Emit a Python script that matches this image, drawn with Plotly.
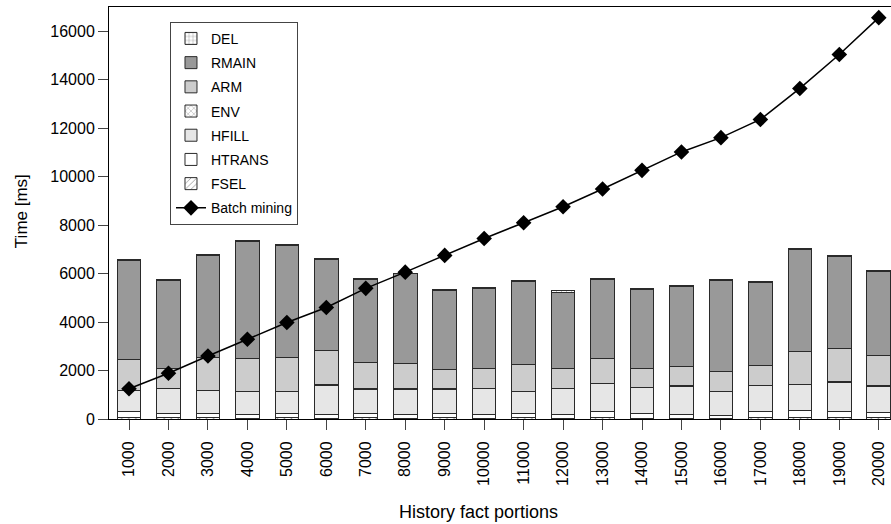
import plotly.graph_objects as go

categories = ["1000", "2000", "3000", "4000", "5000", "6000", "7000", "8000", "9000", "10000",
              "11000", "12000", "13000", "14000", "15000", "16000", "17000", "18000", "19000", "20000"]

fsel = [70, 50, 50, 40, 50, 40, 50, 40, 50, 40, 50, 40, 60, 40, 40, 30, 60, 60, 60, 60]
htrans = [230, 180, 185, 140, 175, 140, 180, 165, 180, 165, 180, 165, 265, 190, 150, 130, 260, 275, 265, 225]
hfill = [870, 1010, 940, 940, 910, 1210, 1000, 1020, 1000, 1040, 900, 1040, 1120, 1070, 1160, 970, 1060, 1070, 1190, 1070]
env = [20, 20, 20, 20, 20, 20, 20, 20, 20, 20, 20, 20, 20, 20, 20, 20, 20, 20, 20, 20]
arm = [1260, 820, 1360, 1370, 1400, 1430, 1080, 1040, 790, 820, 1080, 800, 1040, 780, 810, 790, 810, 1370, 1390, 1260]
rmain = [4080, 3640, 4180, 4800, 4590, 3750, 3430, 3700, 3280, 3300, 3460, 3160, 3260, 3260, 3300, 3790, 3420, 4190, 3760, 3440]
dele = [45, 45, 35, 45, 35, 35, 30, 35, 40, 35, 35, 60, 35, 40, 35, 35, 60, 45, 55, 35]
batch_mining = [1250, 1890, 2600, 3290, 3980, 4600, 5390, 6060, 6750, 7450,
                8100, 8760, 9490, 10260, 11020, 11610, 12360, 13640, 15040, 16560]

FONT = "Liberation Sans"
OUTLINE = "#2a2a2a"

fig = go.Figure()

stack = [
    ("FSEL", fsel, "#ffffff", "/", 7),
    ("HTRANS", htrans, "#ffffff", "", 6),
    ("HFILL", hfill, "#e6e6e6", "", 5),
    ("ENV", env, "#ffffff", "x", 4),
    ("ARM", arm, "#cccccc", "", 3),
    ("RMAIN", rmain, "#999999", "", 2),
    ("DEL", dele, "#ffffff", "+", 1),
]
for name, vals, color, shape, rank in stack:
    fig.add_trace(go.Bar(
        x=categories, y=vals, name=name,
        marker=dict(color=color, line=dict(color=OUTLINE, width=1),
                    pattern=dict(shape=shape, fgcolor="#222222", size=5, solidity=0.2)),
        legendrank=rank, legendgroup=name,
    ))

fig.add_trace(go.Scatter(
    x=categories, y=batch_mining, name="Batch mining", mode="lines+markers",
    line=dict(color="#000000", width=1.5),
    marker=dict(symbol="diamond", size=12, color="#000000"),
    legendrank=8, legendgroup="bm",
))

fig.update_layout(
    width=891, height=524,
    margin=dict(l=109, r=0, t=7, b=105, autoexpand=False),
    paper_bgcolor="white", plot_bgcolor="white",
    barmode="stack", bargap=0.4,
    font=dict(family=FONT, size=15, color="#000000"),
    showlegend=True,
    legend=dict(
        x=0.078, y=0.964, xanchor="left", yanchor="top",
        bgcolor="white", bordercolor="#444444", borderwidth=1,
        font=dict(family=FONT, size=14, color="#000000"),
        traceorder="grouped", tracegroupgap=3, itemwidth=30,
    ),
    xaxis=dict(
        type="category", range=[-0.507, 19.31], automargin=False,
        showline=True, linecolor="#000000", linewidth=1, mirror=True,
        ticks="outside", ticklen=10, tickcolor="#444444", ticklabelstandoff=5,
        tickangle=-90, tickfont=dict(family=FONT, size=16), showgrid=False,
    ),
    yaxis=dict(
        range=[0, 17000], tickvals=[0, 2000, 4000, 6000, 8000, 10000, 12000, 14000, 16000],
        tickformat="d", automargin=False,
        showline=True, linecolor="#000000", linewidth=1,
        ticks="outside", ticklen=10, tickcolor="#444444",
        tickfont=dict(family=FONT, size=16), showgrid=False, zeroline=False,
    ),
    annotations=[
        dict(text="History fact portions", xref="paper", yref="paper",
             x=0.473, y=-0.2267, xanchor="center", yanchor="middle",
             showarrow=False, font=dict(family=FONT, size=18)),
        dict(text="Time [ms]", xref="paper", yref="paper", textangle=-90,
             x=-0.111, y=0.505, xanchor="center", yanchor="middle",
             showarrow=False, font=dict(family=FONT, size=17)),
    ],
)

fig.write_html("out.html", config={"displayModeBar": False},
               post_script="document.body.style.margin='0';document.body.style.overflow='hidden';")
